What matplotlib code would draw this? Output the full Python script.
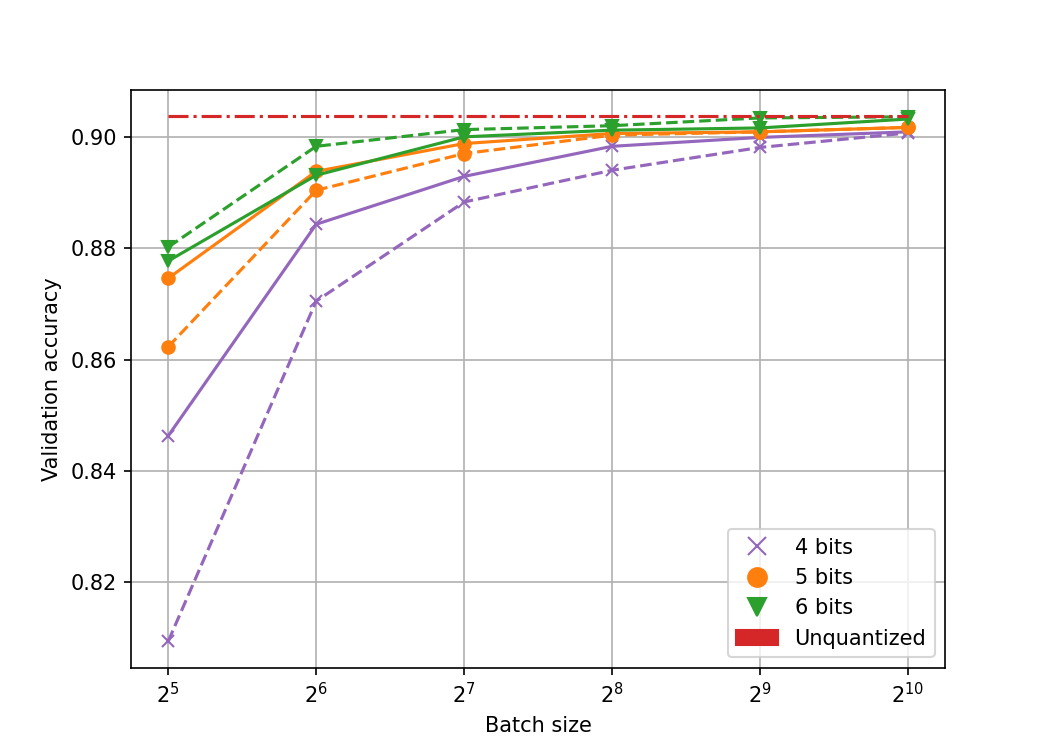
import matplotlib
matplotlib.use("Agg")
import matplotlib.pyplot as plt
import matplotlib.lines as mlines
import matplotlib.patches as mpatches

batch_sizes = [32, 64, 128, 256, 512, 1024]

# solid / dashed runs for each bit width
acc_4bit = [0.8463, 0.8843, 0.8929, 0.8983, 0.8999, 0.9009]
acc_4bit_dashed = [0.8094, 0.8705, 0.8883, 0.8940, 0.8981, 0.9007]
acc_5bit = [0.8746, 0.8938, 0.8988, 0.9006, 0.9009, 0.9017]
acc_5bit_dashed = [0.8623, 0.8904, 0.8970, 0.9003, 0.9009, 0.9017]
acc_6bit = [0.8777, 0.8931, 0.9000, 0.9012, 0.9016, 0.9032]
acc_6bit_dashed = [0.8802, 0.8983, 0.9013, 0.9020, 0.9034, 0.9036]
acc_unquantized = 0.9037

series = [
    (acc_4bit, acc_4bit_dashed, "tab:purple", "x", "4 bits"),
    (acc_5bit, acc_5bit_dashed, "tab:orange", "o", "5 bits"),
    (acc_6bit, acc_6bit_dashed, "tab:green", "v", "6 bits"),
]

fig, ax = plt.subplots(figsize=(7, 5), dpi=150)

handles = list()
for solid, dashed, color, marker, label in series:
    ax.plot(batch_sizes, solid, color=color, marker=marker, linestyle="-")
    ax.plot(batch_sizes, dashed, color=color, marker=marker, linestyle="--")
    handles.append(mlines.Line2D([], [], color=color, marker=marker, linestyle="None",
                                 markersize=9, label=label))

ax.plot(batch_sizes, [acc_unquantized] * len(batch_sizes), color="tab:red", linestyle="-.")
handles.append(mpatches.Patch(color="tab:red", label="Unquantized"))

ax.set_xscale("log", base=2)
ax.set_xticks(batch_sizes)
ax.grid(True)
ax.set_xlabel("Batch size")
ax.set_ylabel("Validation accuracy")
ax.legend(handles=handles, loc="lower right")

fig.savefig("out.png")
